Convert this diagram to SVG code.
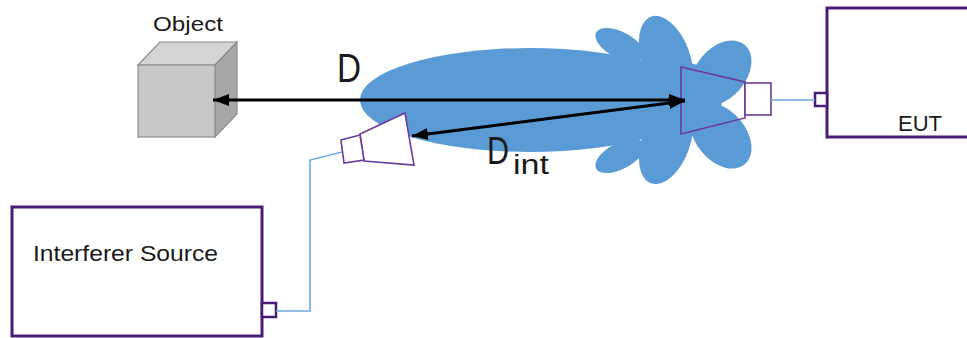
<svg xmlns="http://www.w3.org/2000/svg" width="967" height="338" viewBox="0 0 967 338">
<style>
.box{fill:#fff;stroke:#4a1c78;stroke-width:3}
.port{fill:#fff;stroke:#4a1c78;stroke-width:2.5}
.horn{stroke:#6a3a9c;stroke-width:1.6;stroke-linejoin:miter}
.wire{fill:none;stroke:#6fa8dc;stroke-width:1.6}
.dist{fill:none;stroke:#000;stroke-width:3}
.lbl{font-family:"Liberation Sans",Arial,sans-serif;fill:#1a1a1a}
.beam{fill:#5b9bd5}
</style>
<defs>
<marker id="ah" markerUnits="userSpaceOnUse" markerWidth="16" markerHeight="12" refX="16" refY="6" orient="auto-start-reverse" viewBox="0 0 16 12">
<path d="M0,0 L16,6 L0,12 z" fill="#000"/>
</marker>
</defs>

<g id="beam" class="beam">
<ellipse cx="530" cy="100" rx="170" ry="52"/>
<ellipse cx="682" cy="100" rx="40" ry="38"/>
<ellipse cx="620" cy="45" rx="27" ry="13" transform="rotate(28 620 45)"/>
<ellipse cx="666" cy="58" rx="24" ry="44" transform="rotate(-20 666 58)"/>
<ellipse cx="721" cy="73" rx="37" ry="25" transform="rotate(-50 721 73)"/>
<ellipse cx="620" cy="156" rx="27" ry="13" transform="rotate(-28 620 156)"/>
<ellipse cx="666" cy="142" rx="24" ry="44" transform="rotate(20 666 142)"/>
<ellipse cx="721" cy="136" rx="37" ry="25" transform="rotate(50 721 136)"/>
</g>

<g id="object">
<polygon points="138,65 160,42 237,42 215,65" fill="#d4d4d4" stroke="#8c8c8c" stroke-width="1.2"/>
<polygon points="215,65 237,42 237,114 215,137" fill="#a6a6a6" stroke="#8c8c8c" stroke-width="1.2"/>
<rect x="138" y="65" width="77" height="72" fill="#c8c8c8" stroke="#8c8c8c" stroke-width="1.2"/>
<text class="lbl" x="153" y="31" font-size="21" textLength="70" lengthAdjust="spacingAndGlyphs">Object</text>
</g>

<g id="eut">
<rect class="box" x="827" y="8" width="200" height="129"/>
<rect class="port" x="815" y="93" width="12" height="13"/>
<text class="lbl" x="898" y="131" font-size="22" textLength="44" lengthAdjust="spacingAndGlyphs">EUT</text>
</g>

<g id="eut-antenna">
<polygon class="horn" points="681,67 745,82 745,118 681,134" fill="none"/>
<rect class="horn" x="745" y="83" width="26" height="32" fill="#fff"/>
</g>

<g id="interferer-source">
<rect class="box" x="12" y="207" width="250" height="129"/>
<rect class="port" x="262" y="303" width="14" height="14"/>
<text class="lbl" x="33" y="261" font-size="22" textLength="185" lengthAdjust="spacingAndGlyphs">Interferer Source</text>
</g>

<g id="interferer-antenna">
<polygon class="horn" points="360,134 405,113 414,165 364,161" fill="#fff"/>
<polygon class="horn" points="341,140 360,135 364,160 344,163" fill="#fff"/>
</g>

<g id="connectors">
<polyline class="wire" points="771,100 815,100"/>
<polyline class="wire" points="276,311 310,311 310,160 342,152"/>
<line class="dist" x1="213" y1="100" x2="685" y2="100" marker-start="url(#ah)" marker-end="url(#ah)"/>
<line class="dist" x1="412" y1="136" x2="685" y2="101" marker-start="url(#ah)" marker-end="url(#ah)"/>
<text class="lbl" x="337" y="82" font-size="40" textLength="24" lengthAdjust="spacingAndGlyphs">D</text>
<text class="lbl" x="487" y="164" font-size="39" textLength="22" lengthAdjust="spacingAndGlyphs">D</text>
<text class="lbl" x="513" y="174" font-size="27" textLength="36" lengthAdjust="spacingAndGlyphs">int</text>
</g>
</svg>
